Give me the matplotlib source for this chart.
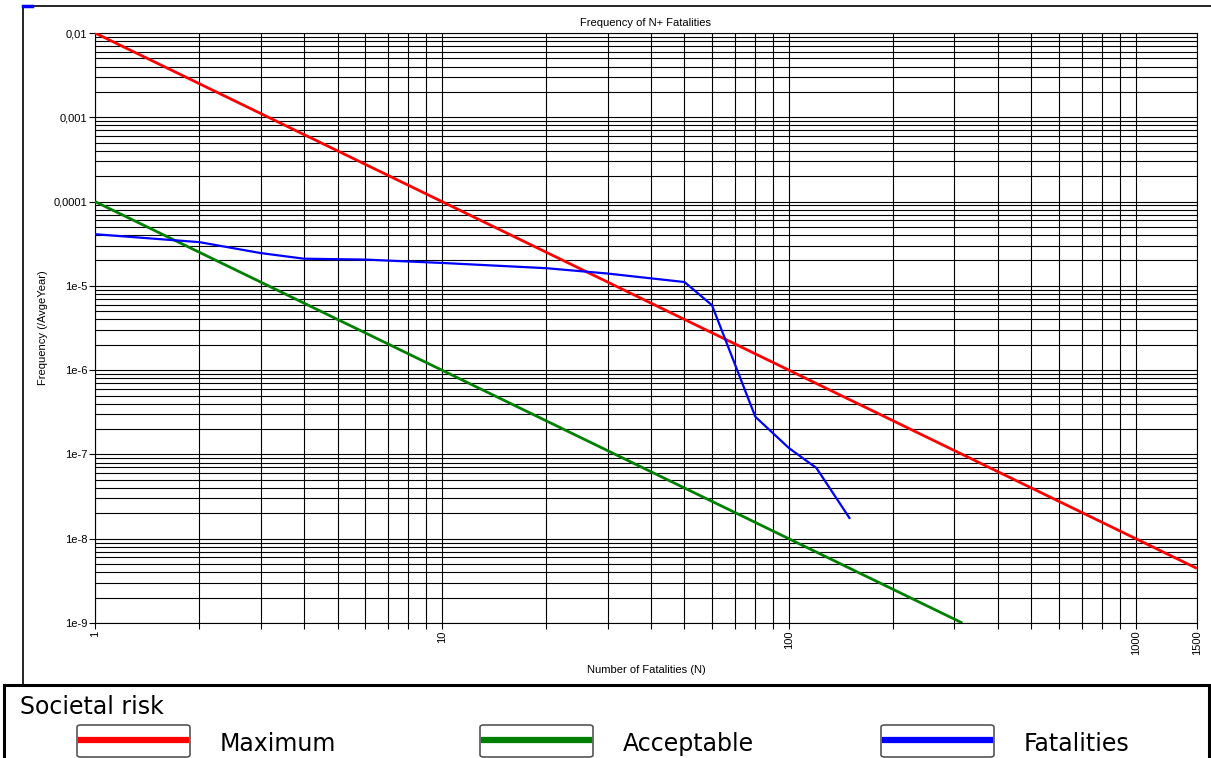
import matplotlib.pyplot as plt
from matplotlib.patches import Rectangle, FancyBboxPatch
from matplotlib.lines import Line2D
from matplotlib.ticker import LogLocator, FixedLocator, NullFormatter

# Kurven
max_n = [1, 1500]
max_freq = [1e-2, 4.44e-9]

acc_n = [1, 316]
acc_freq = [1e-4, 1e-9]

fat_n = [1, 2, 3, 4, 6, 10, 20, 30, 50, 60, 80, 100, 120, 150]
fat_freq = [4.1e-5, 3.3e-5, 2.45e-5, 2.1e-5, 2.05e-5, 1.87e-5, 1.62e-5,
            1.4e-5, 1.11e-5, 5.9e-6, 2.8e-7, 1.19e-7, 6.9e-8, 1.72e-8]

series = [("Maximum", max_n, max_freq, "#ff0000", 2.0),
          ("Acceptable", acc_n, acc_freq, "#008000", 2.0),
          ("Fatalities", fat_n, fat_freq, "#0000ff", 1.6)]

y_ticks = [1e-9, 1e-8, 1e-7, 1e-6, 1e-5, 1e-4, 1e-3, 1e-2]
y_labels = ["1e-9", "1e-8", "1e-7", "1e-6", "1e-5", "0,0001", "0,001", "0,01"]
x_ticks = [1, 10, 100, 1000, 1500]
x_labels = ["1", "10", "100", "1000", "1500"]

plt.rcParams['font.family'] = ['Liberation Sans', 'DejaVu Sans']

W, H = 1211, 758
fig = plt.figure(figsize=(W / 100, H / 100), dpi=100)

def fx(px):
    return px / W

def fy(py):
    return 1 - py / H

ax = fig.add_axes([fx(95), fy(623), fx(1197) - fx(95), fy(33) - fy(623)])
ax.set_xscale("log")
ax.set_yscale("log")
ax.set_xlim(1, 1500)
ax.set_ylim(1e-9, 1e-2)

for name, xs, ys, col, lw in series:
    ax.plot(xs, ys, color=col, lw=lw, zorder=3, solid_capstyle="butt")

ax.yaxis.set_major_locator(FixedLocator(y_ticks))
ax.set_yticklabels(y_labels)
ax.yaxis.set_minor_locator(LogLocator(base=10, subs=range(2, 10), numticks=20))
ax.yaxis.set_minor_formatter(NullFormatter())
ax.xaxis.set_major_locator(FixedLocator(x_ticks))
ax.set_xticklabels(x_labels, rotation=90)
ax.xaxis.set_minor_locator(LogLocator(base=10, subs=range(2, 10), numticks=20))
ax.xaxis.set_minor_formatter(NullFormatter())

ax.grid(True, which="both", color="black", lw=0.8)
ax.tick_params(which="both", direction="out", length=4, width=0.8, labelsize=8, pad=1.5)
ax.tick_params(axis="y", which="minor", length=0)
for s in ax.spines.values():
    s.set_linewidth(0.8)

ax.set_title("Frequency of N+ Fatalities", fontsize=8, pad=5)
ax.set_xlabel("Number of Fatalities (N)", fontsize=8, labelpad=7)
ax.set_ylabel("Frequency (/AvgeYear)", fontsize=8, labelpad=4)

# Rahmen um das Diagramm
fig.add_artist(Line2D([fx(23), fx(23)], [fy(6), fy(685)], color="black", lw=1.2))
fig.add_artist(Line2D([fx(23), fx(1211)], [fy(6), fy(6)], color="black", lw=1.2))
fig.add_artist(Line2D([fx(23), fx(32)], [fy(6), fy(6)], color="#0000ff", lw=2.5))

# Legende
fig.add_artist(Rectangle((fx(4), fy(775)), fx(1209) - fx(4), fy(685) - fy(775),
                         fill=False, edgecolor="black", lw=2.2))
fig.text(fx(20), fy(707), "Societal risk", fontsize=17, family="DejaVu Sans",
         va="center", ha="left")

box_x = [77, 480, 881]
for (name, xs, ys, col, lw), bx in zip(series, box_x):
    fig.add_artist(FancyBboxPatch((fx(bx), fy(757)), fx(113), fy(725) - fy(757),
                                  boxstyle="round,pad=0,rounding_size=0.003",
                                  facecolor="white", edgecolor="#555555", lw=1.2))
    fig.add_artist(Line2D([fx(bx + 4), fx(bx + 109)], [fy(740), fy(740)],
                          color=col, lw=4.5))
    fig.text(fx(bx + 143), fy(744), name, fontsize=17, family="DejaVu Sans",
             va="center", ha="left")

fig.savefig("out.png", dpi=100)
